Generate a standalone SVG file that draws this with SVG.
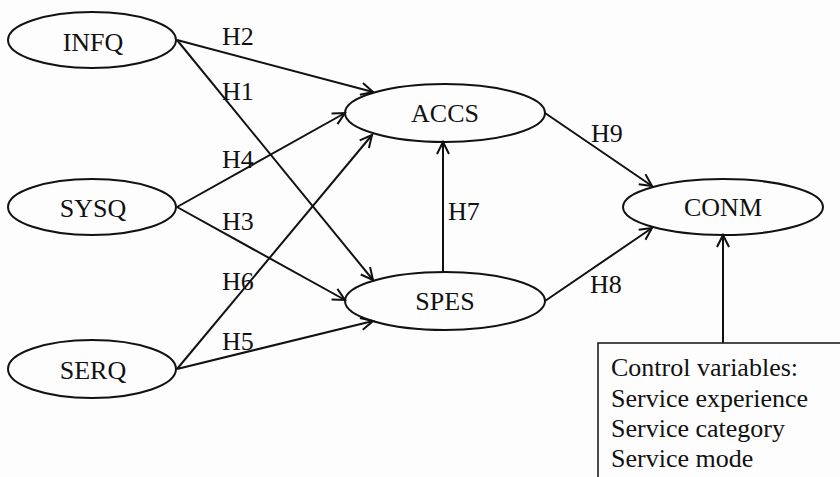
<svg xmlns="http://www.w3.org/2000/svg" width="840" height="477" viewBox="0 0 840 477">
<style>
.n{fill:none;stroke:#111;stroke-width:2}
.t{font-family:"Liberation Serif","Times New Roman",serif;font-size:26px;fill:#111;text-anchor:middle}
.h{font-family:"Liberation Serif","Times New Roman",serif;font-size:26px;fill:#111}
.c{stroke:#111;stroke-width:2;fill:none;marker-end:url(#a)}
</style>
<defs>
<marker id="a" markerUnits="userSpaceOnUse" markerWidth="16" markerHeight="16" refX="13" refY="7" orient="auto" viewBox="0 0 16 14">
<path d="M1,1 L13,7 L1,13" fill="none" stroke="#111" stroke-width="2"/>
</marker>
</defs>
<rect width="840" height="477" fill="#fdfdfd"/>
<g id="INFQ"><ellipse class="n" cx="92" cy="40" rx="84" ry="28"/><text class="t" x="93" y="51">INFQ</text></g>
<g id="SYSQ"><ellipse class="n" cx="92" cy="207" rx="84" ry="28"/><text class="t" x="93" y="217">SYSQ</text></g>
<g id="SERQ"><ellipse class="n" cx="92" cy="369" rx="84" ry="29"/><text class="t" x="93" y="379">SERQ</text></g>
<g id="ACCS"><ellipse class="n" cx="445" cy="113" rx="100" ry="29"/><text class="t" x="445" y="122">ACCS</text></g>
<g id="SPES"><ellipse class="n" cx="445" cy="301" rx="100" ry="29"/><text class="t" x="445" y="310">SPES</text></g>
<g id="CONM"><ellipse class="n" cx="723" cy="207" rx="100" ry="28"/><text class="t" x="723" y="216">CONM</text></g>
<g id="CONTROL">
<rect x="598" y="343" width="260" height="150" fill="#fdfdfd" stroke="#111" stroke-width="1.5"/>
<text class="h" x="611" y="376">Control variables:</text>
<text class="h" x="611" y="407">Service experience</text>
<text class="h" x="611" y="437">Service category</text>
<text class="h" x="611" y="467">Service mode</text>
</g>
<g id="connectors">
<line class="c" x1="177" y1="40" x2="373" y2="92"/>
<line class="c" x1="177" y1="40" x2="373" y2="280"/>
<line class="c" x1="177" y1="207" x2="345" y2="113"/>
<line class="c" x1="177" y1="207" x2="345" y2="300"/>
<line class="c" x1="177" y1="369" x2="372" y2="135"/>
<line class="c" x1="177" y1="369" x2="373" y2="321"/>
<line class="c" x1="443" y1="272" x2="443" y2="142"/>
<line class="c" x1="545" y1="113" x2="652" y2="186"/>
<line class="c" x1="545" y1="301" x2="652" y2="228"/>
<line class="c" x1="723" y1="343" x2="723" y2="235"/>
</g>
<g id="labels">
<text class="h" x="222" y="45">H2</text>
<text class="h" x="222" y="100">H1</text>
<text class="h" x="222" y="168">H4</text>
<text class="h" x="222" y="230">H3</text>
<text class="h" x="222" y="290">H6</text>
<text class="h" x="222" y="350">H5</text>
<text class="h" x="448" y="220">H7</text>
<text class="h" x="591" y="142">H9</text>
<text class="h" x="590" y="293">H8</text>
</g>
</svg>
